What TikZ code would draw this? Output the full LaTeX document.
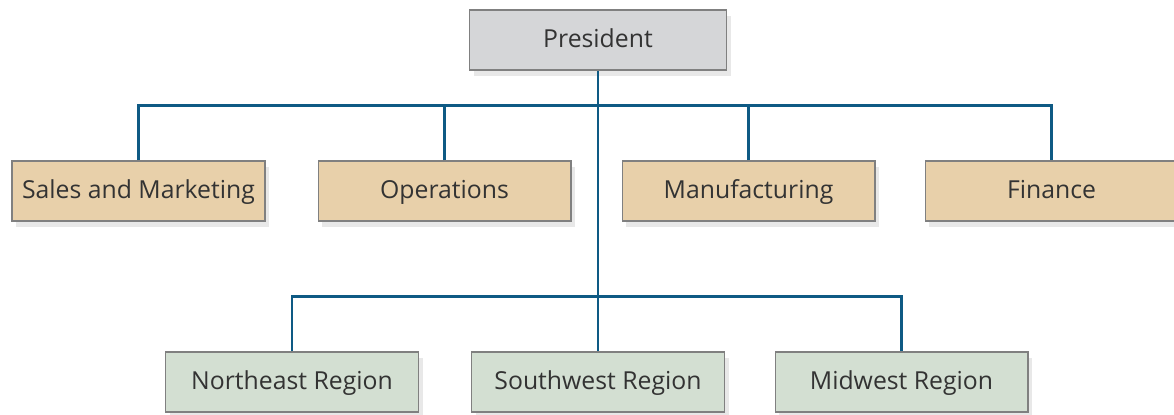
\documentclass[tikz,border=0pt]{standalone}
\usepackage{fontspec}
\setmainfont{Open Sans}
\usepackage{xcolor}
\usetikzlibrary{positioning,shadows}

\definecolor{presgray}{HTML}{D5D6D8}
\definecolor{depttan}{HTML}{E8D0AA}
\definecolor{regiongreen}{HTML}{D3DFD2}
\definecolor{linkblue}{HTML}{0E5A84}
\definecolor{boxedge}{HTML}{808080}
\definecolor{labelgray}{HTML}{333333}

\begin{document}
\begin{tikzpicture}[
  x=0.02cm, y=-0.02cm,
  unit/.style={
    rectangle,
    draw=boxedge,
    line width=0.6pt,
    font=\fontsize{14.1}{17}\selectfont,
    text=labelgray,
    text height=2.0ex,
    text depth=0.4ex,
    minimum width=5.06cm,
    minimum height=1.2cm,
    inner sep=0pt,
    drop shadow={opacity=0.18, shadow xshift=2.5pt, shadow yshift=-3.5pt}
  },
  pres/.style={unit, fill=presgray, minimum width=5.14cm},
  dept/.style={unit, fill=depttan},
  region/.style={unit, fill=regiongreen},
  link/.style={draw=linkblue, line width=1.7pt}
]

\useasboundingbox (0,0) rectangle (1174,414);

% top
\node[pres] (president) at (598, 40) {President};

% departments
\node[dept] (sales) at (138.5, 191) {Sales and Marketing};
\node[dept] (ops)   at (444.5, 191) {Operations};
\node[dept] (mfg)   at (748.5, 191) {Manufacturing};
\node[dept] (fin)   at (1051.5, 191) {Finance};

% regions
\node[region] (northeast) at (292, 382) {Northeast Region};
\node[region] (southwest) at (598, 382) {Southwest Region};
\node[region] (midwest)   at (901.5, 382) {Midwest Region};

\coordinate (deptbus) at (598, 105);
\coordinate (regionbus) at (598, 296);

\draw[link] (president.south) -- (southwest.north);
\draw[link] (sales.north) |- (deptbus) -| (fin.north);
\draw[link] (ops.north) |- (deptbus);
\draw[link] (mfg.north) |- (deptbus);
\draw[link] (northeast.north) |- (regionbus) -| (midwest.north);

\end{tikzpicture}
\end{document}
